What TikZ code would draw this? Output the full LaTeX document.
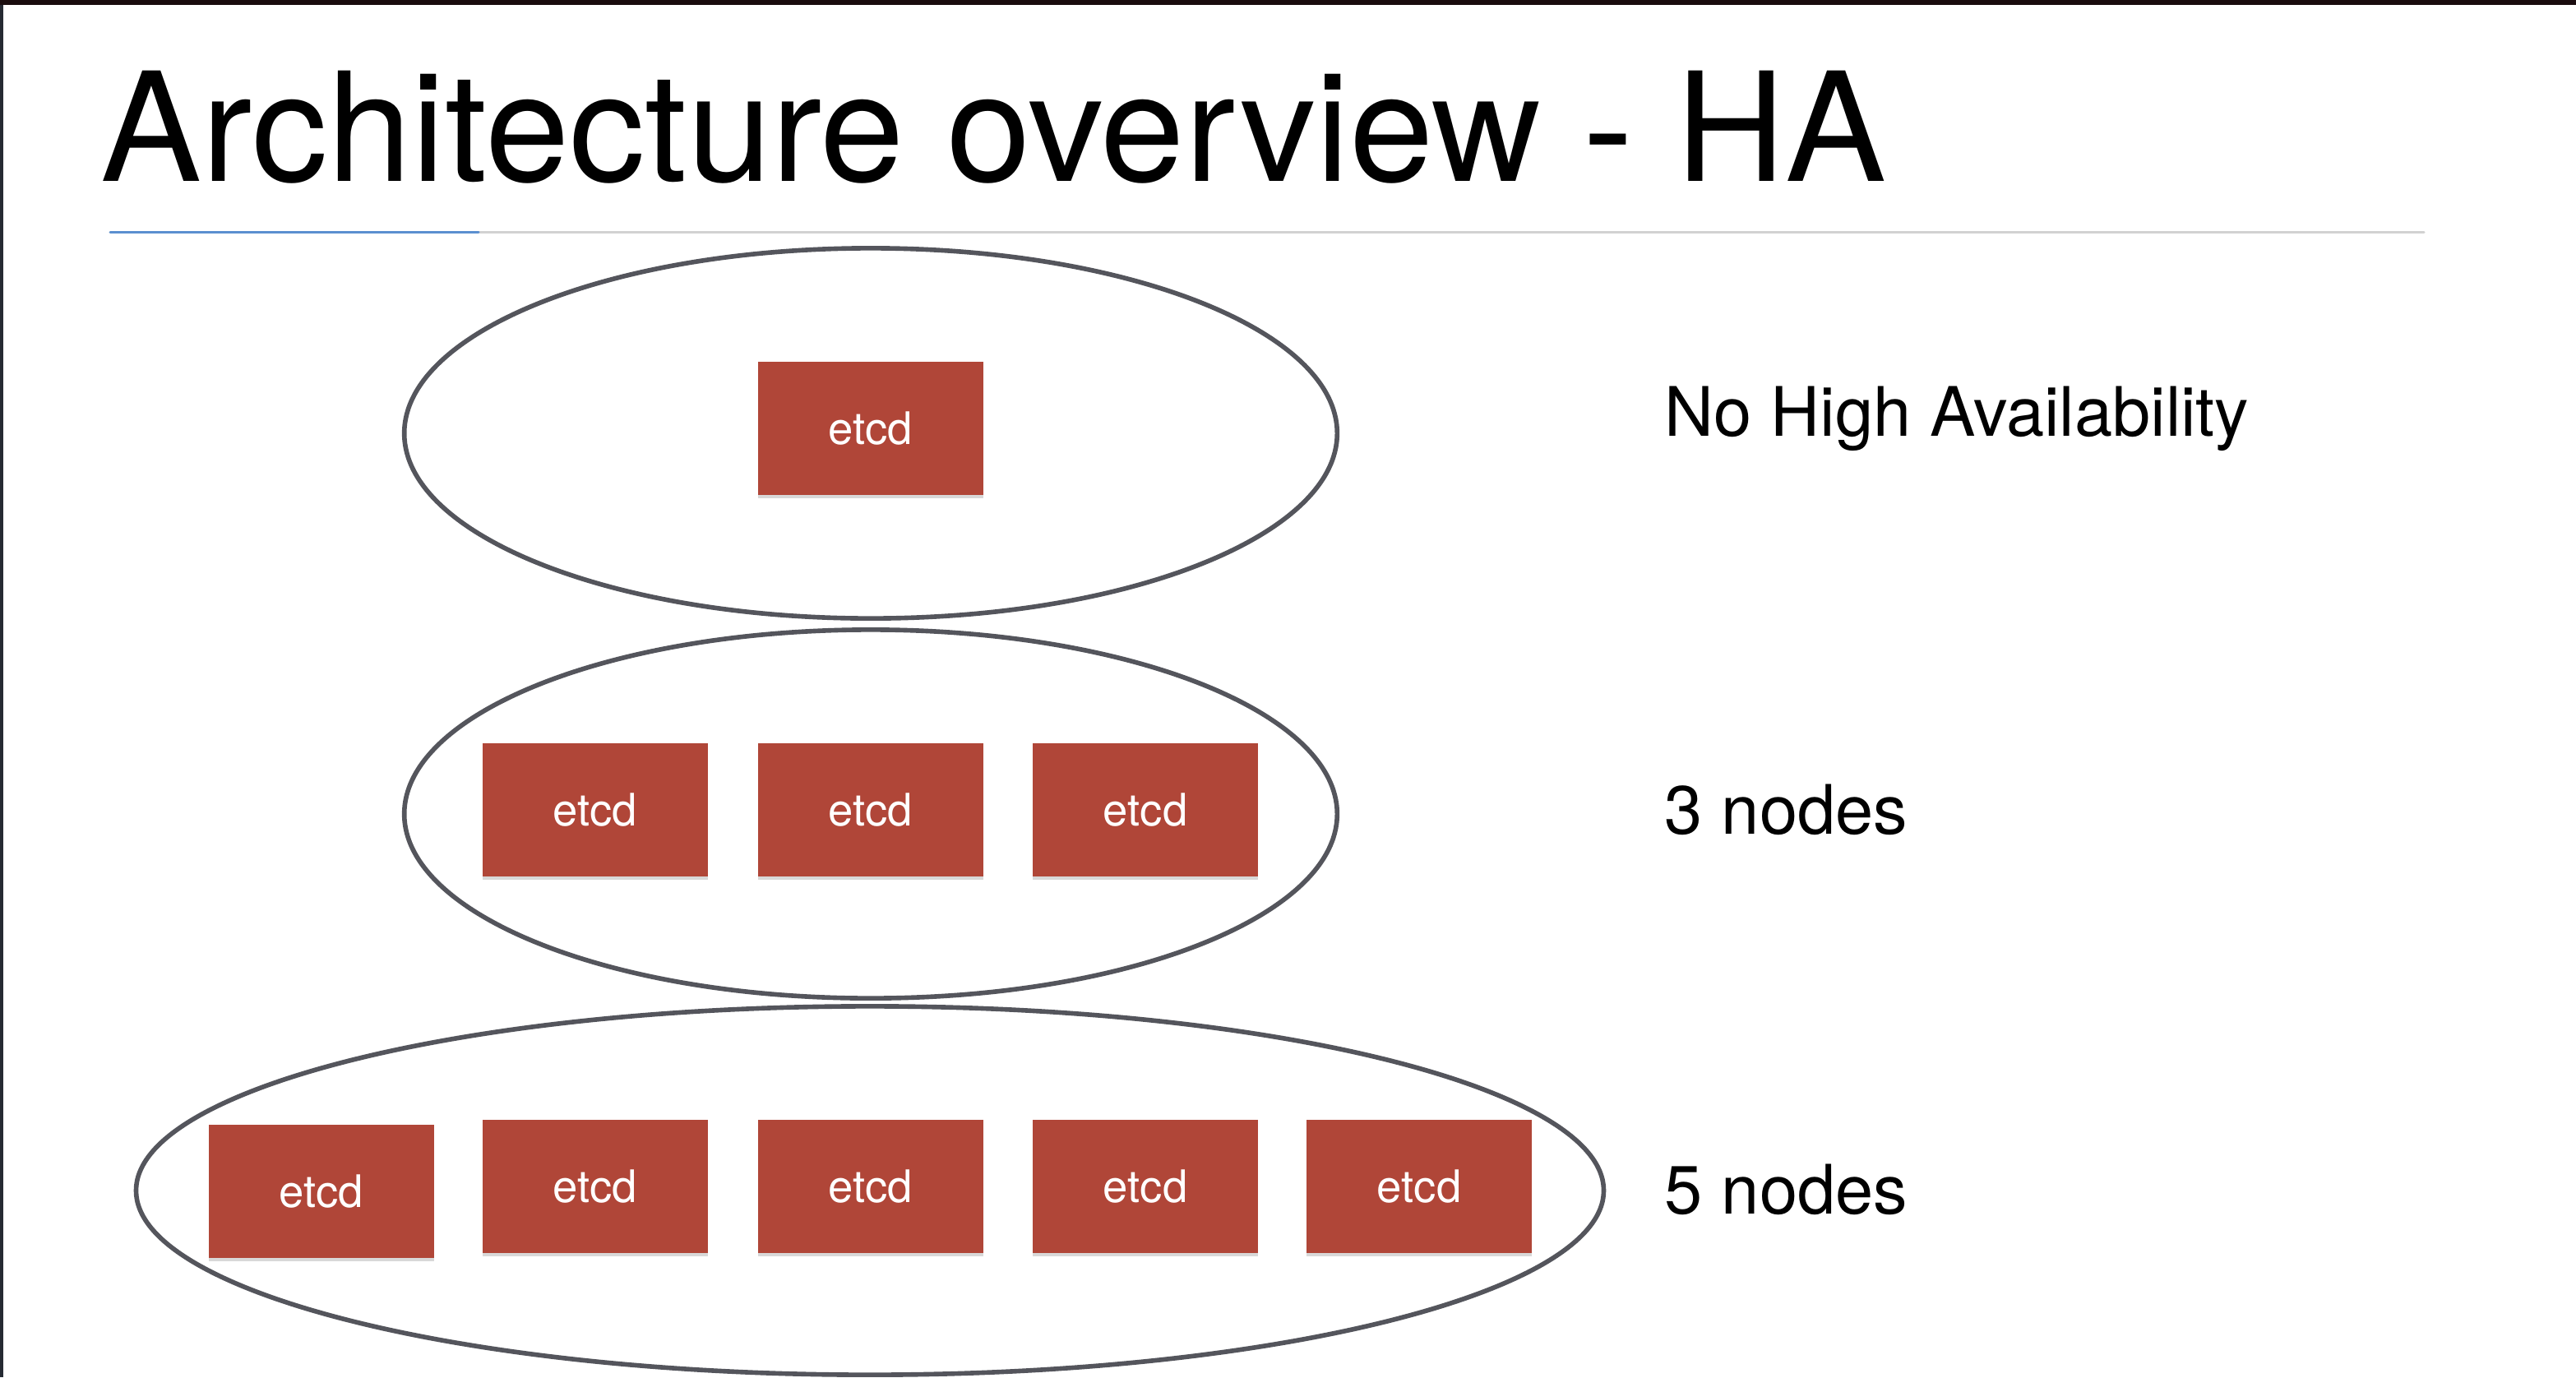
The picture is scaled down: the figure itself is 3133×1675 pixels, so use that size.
\documentclass[tikz,border=0pt]{standalone}
\usepackage{fontspec}
\setmainfont{TeX Gyre Heros}
\usetikzlibrary{shapes.geometric,shadows}
\definecolor{etcdred}{RGB}{176,70,56}
\definecolor{ringgrey}{RGB}{84,85,92}
\definecolor{ruleblue}{RGB}{91,143,208}
\definecolor{rulegrey}{RGB}{210,210,210}
\definecolor{framedark}{RGB}{26,12,14}
\definecolor{frameslate}{RGB}{37,42,51}

\begin{document}
\begin{tikzpicture}[x=0.01cm,y=-0.01cm,line cap=round,
  every node/.style={inner sep=0pt},
  etcdbox/.style={fill=etcdred,minimum width=2.74cm,minimum height=1.62cm,
   text=white,font=\fontsize{15.5}{18}\selectfont,
   drop shadow={opacity=.3,shadow xshift=0pt,shadow yshift=-1.2pt}},
  ring/.style={draw=ringgrey,line width=1.6pt,ellipse},
  caption/.style={anchor=base west,font=\fontsize{23.6}{28}\selectfont}]
 \fill[white] (0,0) rectangle (3133,1675);
 \useasboundingbox (0,0) rectangle (3133,1675);
 \fill[framedark] (0,0) rectangle (3133,6);
 \fill[frameslate] (0,6) rectangle (4,1675);
 % title and rule
 \node[anchor=base west,font=\fontsize{52.4}{60}\selectfont] (title)
  at (122,220) {Architecture overview - HA};
 \draw[rulegrey,line width=.85pt] (134,282) -- (2948,282);
 \draw[ruleblue,line width=.85pt] (134,282) -- (582,282);
 % rings
 \node[ring,minimum width=11.34cm,minimum height=4.5cm] (ringone) at (1059,527) {};
 \node[ring,minimum width=11.34cm,minimum height=4.48cm] (ringthree) at (1059,990) {};
 \node[ring,minimum width=17.84cm,minimum height=4.48cm] (ringfive) at (1058,1448) {};
 % etcd members
 \node[etcdbox] (solo) at (1059,521) {etcd};
 \foreach \i/\x in {1/724,2/1059,3/1393}
  \node[etcdbox] (three\i) at (\x,985) {etcd};
 \node[etcdbox] (five1) at (391,1449) {etcd};
 \foreach \i/\x in {2/724,3/1059,4/1393,5/1726}
  \node[etcdbox] (five\i) at (\x,1443) {etcd};
 % captions
 \node[caption] (capone) at (2024,530) {No High Availability};
 \node[caption] (capthree) at (2024,1014) {3 nodes};
 \node[caption] (capfive) at (2024,1476) {5 nodes};
\end{tikzpicture}
\end{document}
